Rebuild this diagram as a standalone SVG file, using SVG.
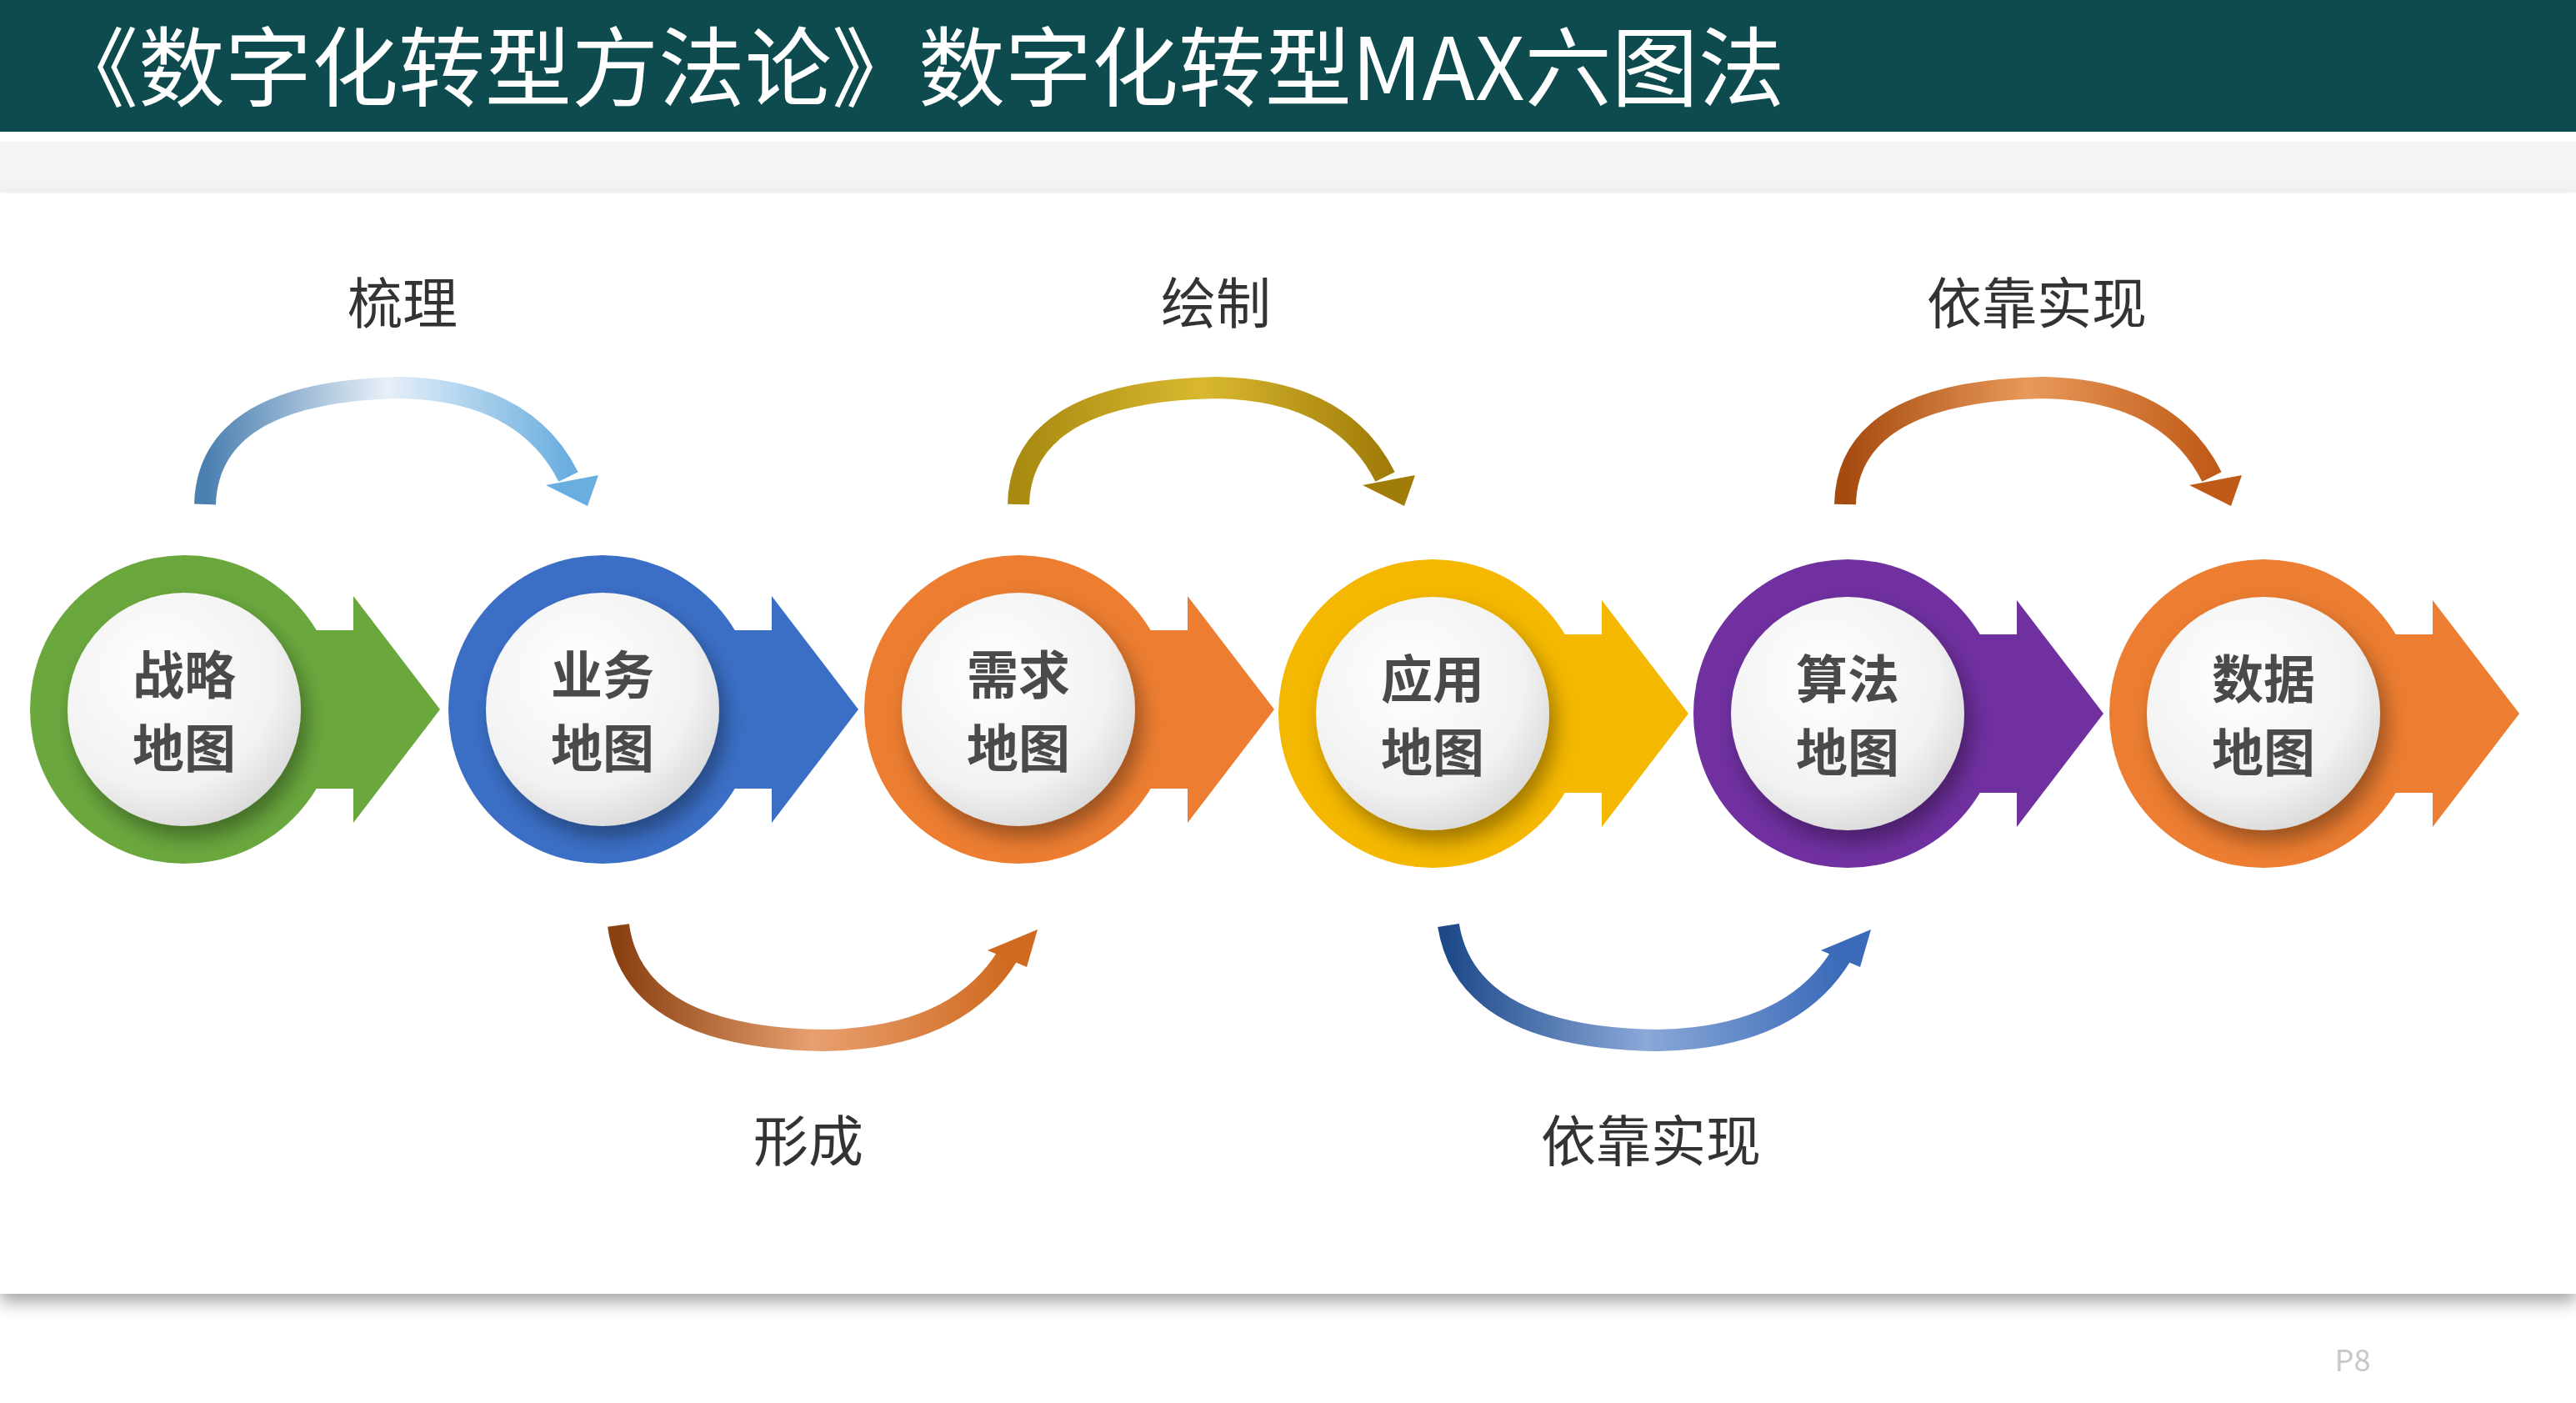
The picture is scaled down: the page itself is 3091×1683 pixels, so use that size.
<svg xmlns="http://www.w3.org/2000/svg" width="3091" height="1683" viewBox="0 0 3091 1683">
<style>
.t{font-family:"Noto Sans CJK SC","Liberation Sans",sans-serif}
.lbl{font-size:66px;fill:#333;text-anchor:middle}
.nl{font-size:62px;font-weight:bold;fill:#4a4a4a;text-anchor:middle}
.arc{fill:none;stroke-width:26;stroke-linecap:butt}
</style>
<defs>
<radialGradient id="wg" cx="0.4" cy="0.35" r="0.7"><stop offset="0" stop-color="#ffffff"/><stop offset="0.7" stop-color="#f2f2f2"/><stop offset="1" stop-color="#d8d8d8"/></radialGradient>
<filter id="sh" x="-30%" y="-30%" width="160%" height="160%"><feDropShadow dx="8" dy="14" stdDeviation="12" flood-color="#000" flood-opacity="0.35"/></filter>
<filter id="ps" x="-5%" y="-10%" width="110%" height="130%"><feDropShadow dx="0" dy="10" stdDeviation="10" flood-color="#000" flood-opacity="0.35"/></filter>
<linearGradient id="g1" x1="0" x2="1"><stop offset="0" stop-color="#4a7fb0"/><stop offset="0.5" stop-color="#e8f0f8"/><stop offset="1" stop-color="#6aaee0"/></linearGradient>
<linearGradient id="g2" x1="0" x2="1"><stop offset="0" stop-color="#a88a10"/><stop offset="0.5" stop-color="#d9b830"/><stop offset="1" stop-color="#a07c08"/></linearGradient>
<linearGradient id="g3" x1="0" x2="1"><stop offset="0" stop-color="#a64a10"/><stop offset="0.5" stop-color="#e89a5a"/><stop offset="1" stop-color="#c05a18"/></linearGradient>
<linearGradient id="g4" x1="0" x2="1"><stop offset="0" stop-color="#8a4010"/><stop offset="0.5" stop-color="#e8a070"/><stop offset="1" stop-color="#d06a20"/></linearGradient>
<linearGradient id="g5" x1="0" x2="1"><stop offset="0" stop-color="#1e4a8a"/><stop offset="0.5" stop-color="#8aa8d8"/><stop offset="1" stop-color="#3a6ab8"/></linearGradient>
<g id="node">
<path d="M150,-95 L203,-95 L203,-136 L307,0 L203,136 L203,95 L150,95 Z"/>
<circle r="185"/>
<circle r="140" fill="url(#wg)" filter="url(#sh)"/>
</g>
</defs>
<rect width="3091" height="1683" fill="#fff"/>
<rect x="0" y="0" width="3091" height="158" fill="#0e4b4f"/>
<text class="t" x="62" y="120" font-size="104" fill="#fff">《数字化转型方法论》数字化转型MAX六图法</text>
<rect x="0" y="170" width="3091" height="60" fill="#f4f4f4"/>
<rect x="0" y="232" width="3091" height="1320" fill="#fff" filter="url(#ps)"/>

<g id="connectors">
<path class="arc" stroke="url(#g1)" d="M246,605 Q250,470 480,465 Q630,468 682,572"/>
<polygon points="655,582 718,570 705,607" fill="#6aaee0"/>
<path class="arc" stroke="url(#g2)" d="M1222,605 Q1225,470 1460,465 Q1610,468 1662,572"/>
<polygon points="1635,582 1698,570 1685,607" fill="#a07c08"/>
<path class="arc" stroke="url(#g3)" d="M2214,605 Q2217,470 2452,465 Q2602,468 2654,572"/>
<polygon points="2627,582 2690,570 2677,607" fill="#c05a18"/>
<path class="arc" stroke="url(#g4)" d="M742,1110 Q760,1245 990,1248 Q1150,1245 1210,1145"/>
<polygon points="1185,1140 1245,1115 1232,1160" fill="#d06a20"/>
<path class="arc" stroke="url(#g5)" d="M1738,1110 Q1760,1245 1990,1248 Q2150,1245 2210,1145"/>
<polygon points="2185,1140 2245,1115 2232,1160" fill="#3a6ab8"/>
</g>

<g id="labels" class="t">
<text class="lbl" x="483" y="388">梳理</text>
<text class="lbl" x="1459" y="388">绘制</text>
<text class="lbl" x="2444" y="388">依靠实现</text>
<text class="lbl" x="970" y="1393">形成</text>
<text class="lbl" x="1981" y="1393">依靠实现</text>
</g>

<g id="n1" transform="translate(221,851)" fill="#6aa83e"><use href="#node"/><text class="t nl" y="-18">战略</text><text class="t nl" y="70">地图</text></g>
<g id="n2" transform="translate(723,851)" fill="#3b6fc6"><use href="#node"/><text class="t nl" y="-18">业务</text><text class="t nl" y="70">地图</text></g>
<g id="n3" transform="translate(1222,851)" fill="#ec7d31"><use href="#node"/><text class="t nl" y="-18">需求</text><text class="t nl" y="70">地图</text></g>
<g id="n4" transform="translate(1719,856)" fill="#f5b800"><use href="#node"/><text class="t nl" y="-18">应用</text><text class="t nl" y="70">地图</text></g>
<g id="n5" transform="translate(2217,856)" fill="#7030a0"><use href="#node"/><text class="t nl" y="-18">算法</text><text class="t nl" y="70">地图</text></g>
<g id="n6" transform="translate(2716,856)" fill="#ec7d31"><use href="#node"/><text class="t nl" y="-18">数据</text><text class="t nl" y="70">地图</text></g>
<text class="t" x="2823" y="1645" font-size="36" fill="#c8c8c8" text-anchor="middle">P8</text>
</svg>
